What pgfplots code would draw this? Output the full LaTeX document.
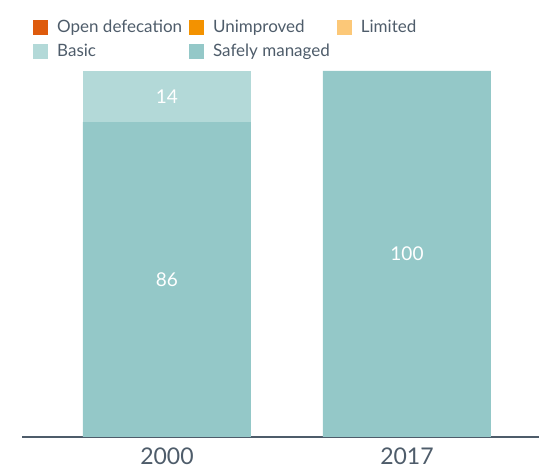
\documentclass[border=0pt]{standalone}
\usepackage{pgfplots}
\pgfplotsset{compat=1.18}
\usepackage{fontspec}
\setmainfont{Lato}

\definecolor{opendef}{HTML}{DE5B0D}
\definecolor{unimp}{HTML}{F39200}
\definecolor{limited}{HTML}{FCC878}
\definecolor{basic}{HTML}{B3D9D8}
\definecolor{safe}{HTML}{94C8C8}
\definecolor{txt}{HTML}{4E5C6A}

\begin{document}
\begin{tikzpicture}
\path[use as bounding box] (0pt,0pt) rectangle (539pt,470pt);
\begin{axis}[
    at={(22pt,33pt)}, anchor=south west,
    scale only axis,
    width=517pt, height=366pt,
    ybar stacked,
    bar width=168pt,
    xmin=-0.604, xmax=1.55,
    ymin=0, ymax=100,
    xtick={0,1},
    xticklabels={2000,2017},
    ytick=\empty,
    axis y line=none,
    axis x line*=bottom,
    x axis line style={draw=txt, line width=1.8pt, -},
    major tick length=0pt,
    xticklabel style={font=\fontsize{23}{26}\selectfont, text=txt, yshift=-7pt},
    clip=false,
    legend columns=3,
    legend cell align=left,
    legend style={
        at={(11pt,419pt)}, anchor=north west,
        draw=none, fill=none, inner sep=0pt,
        font=\fontsize{17}{20}\selectfont, text=txt,
        row sep=6pt,
        /tikz/every even column/.append style={column sep=5pt},
        /tikz/every odd column/.append style={column sep=7pt},
    },
    legend image code/.code={\fill[#1] (0pt,-7.5pt) rectangle (15pt,7.5pt);},
]
\addplot[fill=opendef, draw=none] coordinates {(0,0) (1,0)};
\addlegendentry{Open defecation}
\addplot[fill=unimp, draw=none] coordinates {(0,0) (1,0)};
\addlegendentry{Unimproved}
\addplot[fill=limited, draw=none] coordinates {(0,0) (1,0)};
\addlegendentry{Limited}
\addplot[fill=safe, draw=none, forget plot] coordinates {(0,86) (1,100)};
\addplot[fill=basic, draw=none] coordinates {(0,14) (1,0)};
\addlegendentry{Basic}
\addlegendimage{fill=safe, draw=none}
\addlegendentry{Safely managed}
\coordinate (a) at (axis cs:0,43);
\coordinate (b) at (axis cs:0,93);
\coordinate (c) at (axis cs:1,50);
\end{axis}
\node[text=white, font=\fontsize{19}{22}\selectfont] at (a) {86};
\node[text=white, font=\fontsize{19}{22}\selectfont] at (b) {14};
\node[text=white, font=\fontsize{19}{22}\selectfont] at (c) {100};
\end{tikzpicture}
\end{document}
